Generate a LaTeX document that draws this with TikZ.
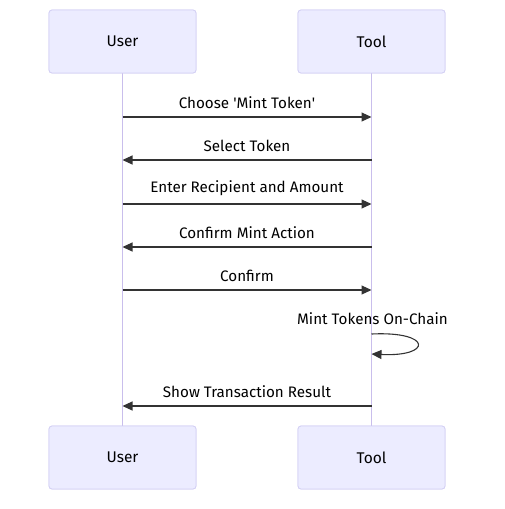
\documentclass[tikz,border=0pt]{standalone}
\usepackage{fontspec}
\setmainfont{Fira Sans}
\usetikzlibrary{positioning,arrows.meta}
\definecolor{actorfill}{HTML}{ECECFF}
\definecolor{actorline}{HTML}{D4D0F4}
\definecolor{lifecolor}{HTML}{C9BEEC}
\definecolor{msgcolor}{HTML}{333333}
\begin{document}
\begin{tikzpicture}[x=1pt, y=-1pt,
    actor/.style={draw=actorline, fill=actorfill, rectangle, rounded corners=3pt,
        line width=0.8pt, minimum width=147pt, minimum height=63pt,
        font=\fontsize{15.5}{18}\selectfont},
    lifeline/.style={draw=lifecolor, line width=1.3pt},
    msg/.style={draw=msgcolor, line width=1.1pt, -{Triangle[length=10pt,width=9pt]}},
    msglabel/.style={above=7pt, inner sep=1pt, text=black, font=\fontsize{15.2}{18}\selectfont}]
    \useasboundingbox (0,0) rectangle (504,509);

    % Actors
    \node [actor] (usertop) at (122.5,41.5) {User};
    \node [actor] (tooltop) at (371.5,41.5) {Tool};
    \node [actor] (userbot) at (122.5,457.5) {User};
    \node [actor] (toolbot) at (371.5,457.5) {Tool};

    % Lifelines
    \draw [lifeline] (usertop) -- (userbot);
    \draw [lifeline] (tooltop) -- (toolbot);

    % Messages
    \draw [msg] (usertop |- 0,117) -- (tooltop |- 0,117) node [midway, msglabel] {Choose \textquotesingle Mint Token\textquotesingle};
    \draw [msg] (tooltop |- 0,160) -- (usertop |- 0,160) node [midway, msglabel] {Select Token};
    \draw [msg] (usertop |- 0,204) -- (tooltop |- 0,204) node [midway, msglabel] {Enter Recipient and Amount};
    \draw [msg] (tooltop |- 0,247) -- (usertop |- 0,247) node [midway, msglabel] {Confirm Mint Action};
    \draw [msg] (usertop |- 0,290) -- (tooltop |- 0,290) node [midway, msglabel] {Confirm};
    \draw [msg] (tooltop |- 0,334) .. controls +(61,-3) and +(61,3) .. (tooltop |- 0,354);
    \node [text=black, font=\fontsize{15.2}{18}\selectfont] (selflabel) at (372.5,319) {Mint Tokens On-Chain};
    \draw [msg] (tooltop |- 0,406) -- (usertop |- 0,406) node [midway, msglabel] {Show Transaction Result};

    % Actors again on top of lifelines
    \node [actor] at (usertop) {User};
    \node [actor] at (tooltop) {Tool};
    \node [actor] at (userbot) {User};
    \node [actor] at (toolbot) {Tool};
\end{tikzpicture}
\end{document}
